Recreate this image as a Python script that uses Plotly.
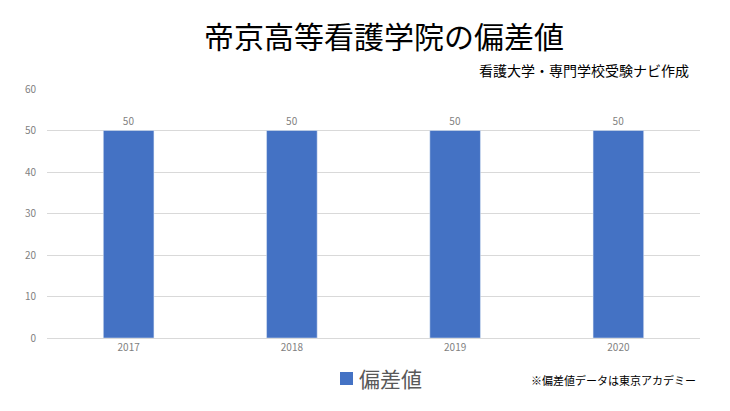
import plotly.graph_objects as go

years = ["2017", "2018", "2019", "2020"]
values = [50, 50, 50, 50]
series_name = "偏差値"
title = "帝京高等看護学院の偏差値"
subtitle = "看護大学・専門学校受験ナビ作成"
note = "※偏差値データは東京アカデミー"

FONT = "Noto Sans CJK JP"
GRAY = "#7f7f7f"
BLUE = "#4472c4"
W, H = 730, 411
ML, MR, MT, MB = 47, 30, 89, 73
PW, PH = W - ML - MR, H - MT - MB


def px_x(x):
    return (x - ML) / PW


def px_y(y):
    return 1 - (y - MT) / PH


fig = go.Figure()
fig.add_trace(go.Bar(
    x=years, y=values, name=series_name,
    marker=dict(color=BLUE),
    text=values, textposition="outside",
    textfont=dict(size=10, color=GRAY, family=FONT),
    cliponaxis=False, showlegend=False,
))

# custom legend (square swatch + label)
fig.add_shape(type="rect", xref="paper", yref="paper",
              x0=px_x(340), x1=px_x(353), y0=px_y(385), y1=px_y(372),
              fillcolor=BLUE, line=dict(width=0))

fig.update_layout(
    width=W, height=H,
    margin=dict(l=ML, r=MR, t=MT, b=MB),
    paper_bgcolor="white", plot_bgcolor="white",
    font=dict(family=FONT, color=GRAY),
    bargap=0.69,
    showlegend=False,
    xaxis=dict(showgrid=False, showline=True, linecolor="#d9d9d9", linewidth=1,
               ticks="", tickfont=dict(size=10, color=GRAY, family=FONT)),
    yaxis=dict(range=[0, 60], dtick=10, showgrid=True, gridcolor="#d9d9d9", gridwidth=1,
               zeroline=False, showline=False, ticks="",
               tickfont=dict(size=10, color=GRAY, family=FONT), ticklabelstandoff=10),
    annotations=[
        dict(text=title, xref="paper", yref="paper", x=px_x(384), y=px_y(35),
             xanchor="center", yanchor="middle", showarrow=False,
             font=dict(size=30, color="#000000", family=FONT)),
        dict(text=subtitle, xref="paper", yref="paper", x=px_x(691), y=px_y(70),
             xanchor="right", yanchor="middle", showarrow=False,
             font=dict(size=14, color="#000000", family=FONT)),
        dict(text=note, xref="paper", yref="paper", x=px_x(698), y=px_y(380),
             xanchor="right", yanchor="middle", showarrow=False,
             font=dict(size=11, color="#000000", family=FONT)),
        dict(text=series_name, xref="paper", yref="paper", x=px_x(357), y=px_y(378),
             xanchor="left", yanchor="middle", showarrow=False,
             font=dict(size=21, color="#595959", family=FONT)),
    ],
)

fig.write_html("out.html", config={"displayModeBar": False},
               post_script="document.body.style.margin='0';")
